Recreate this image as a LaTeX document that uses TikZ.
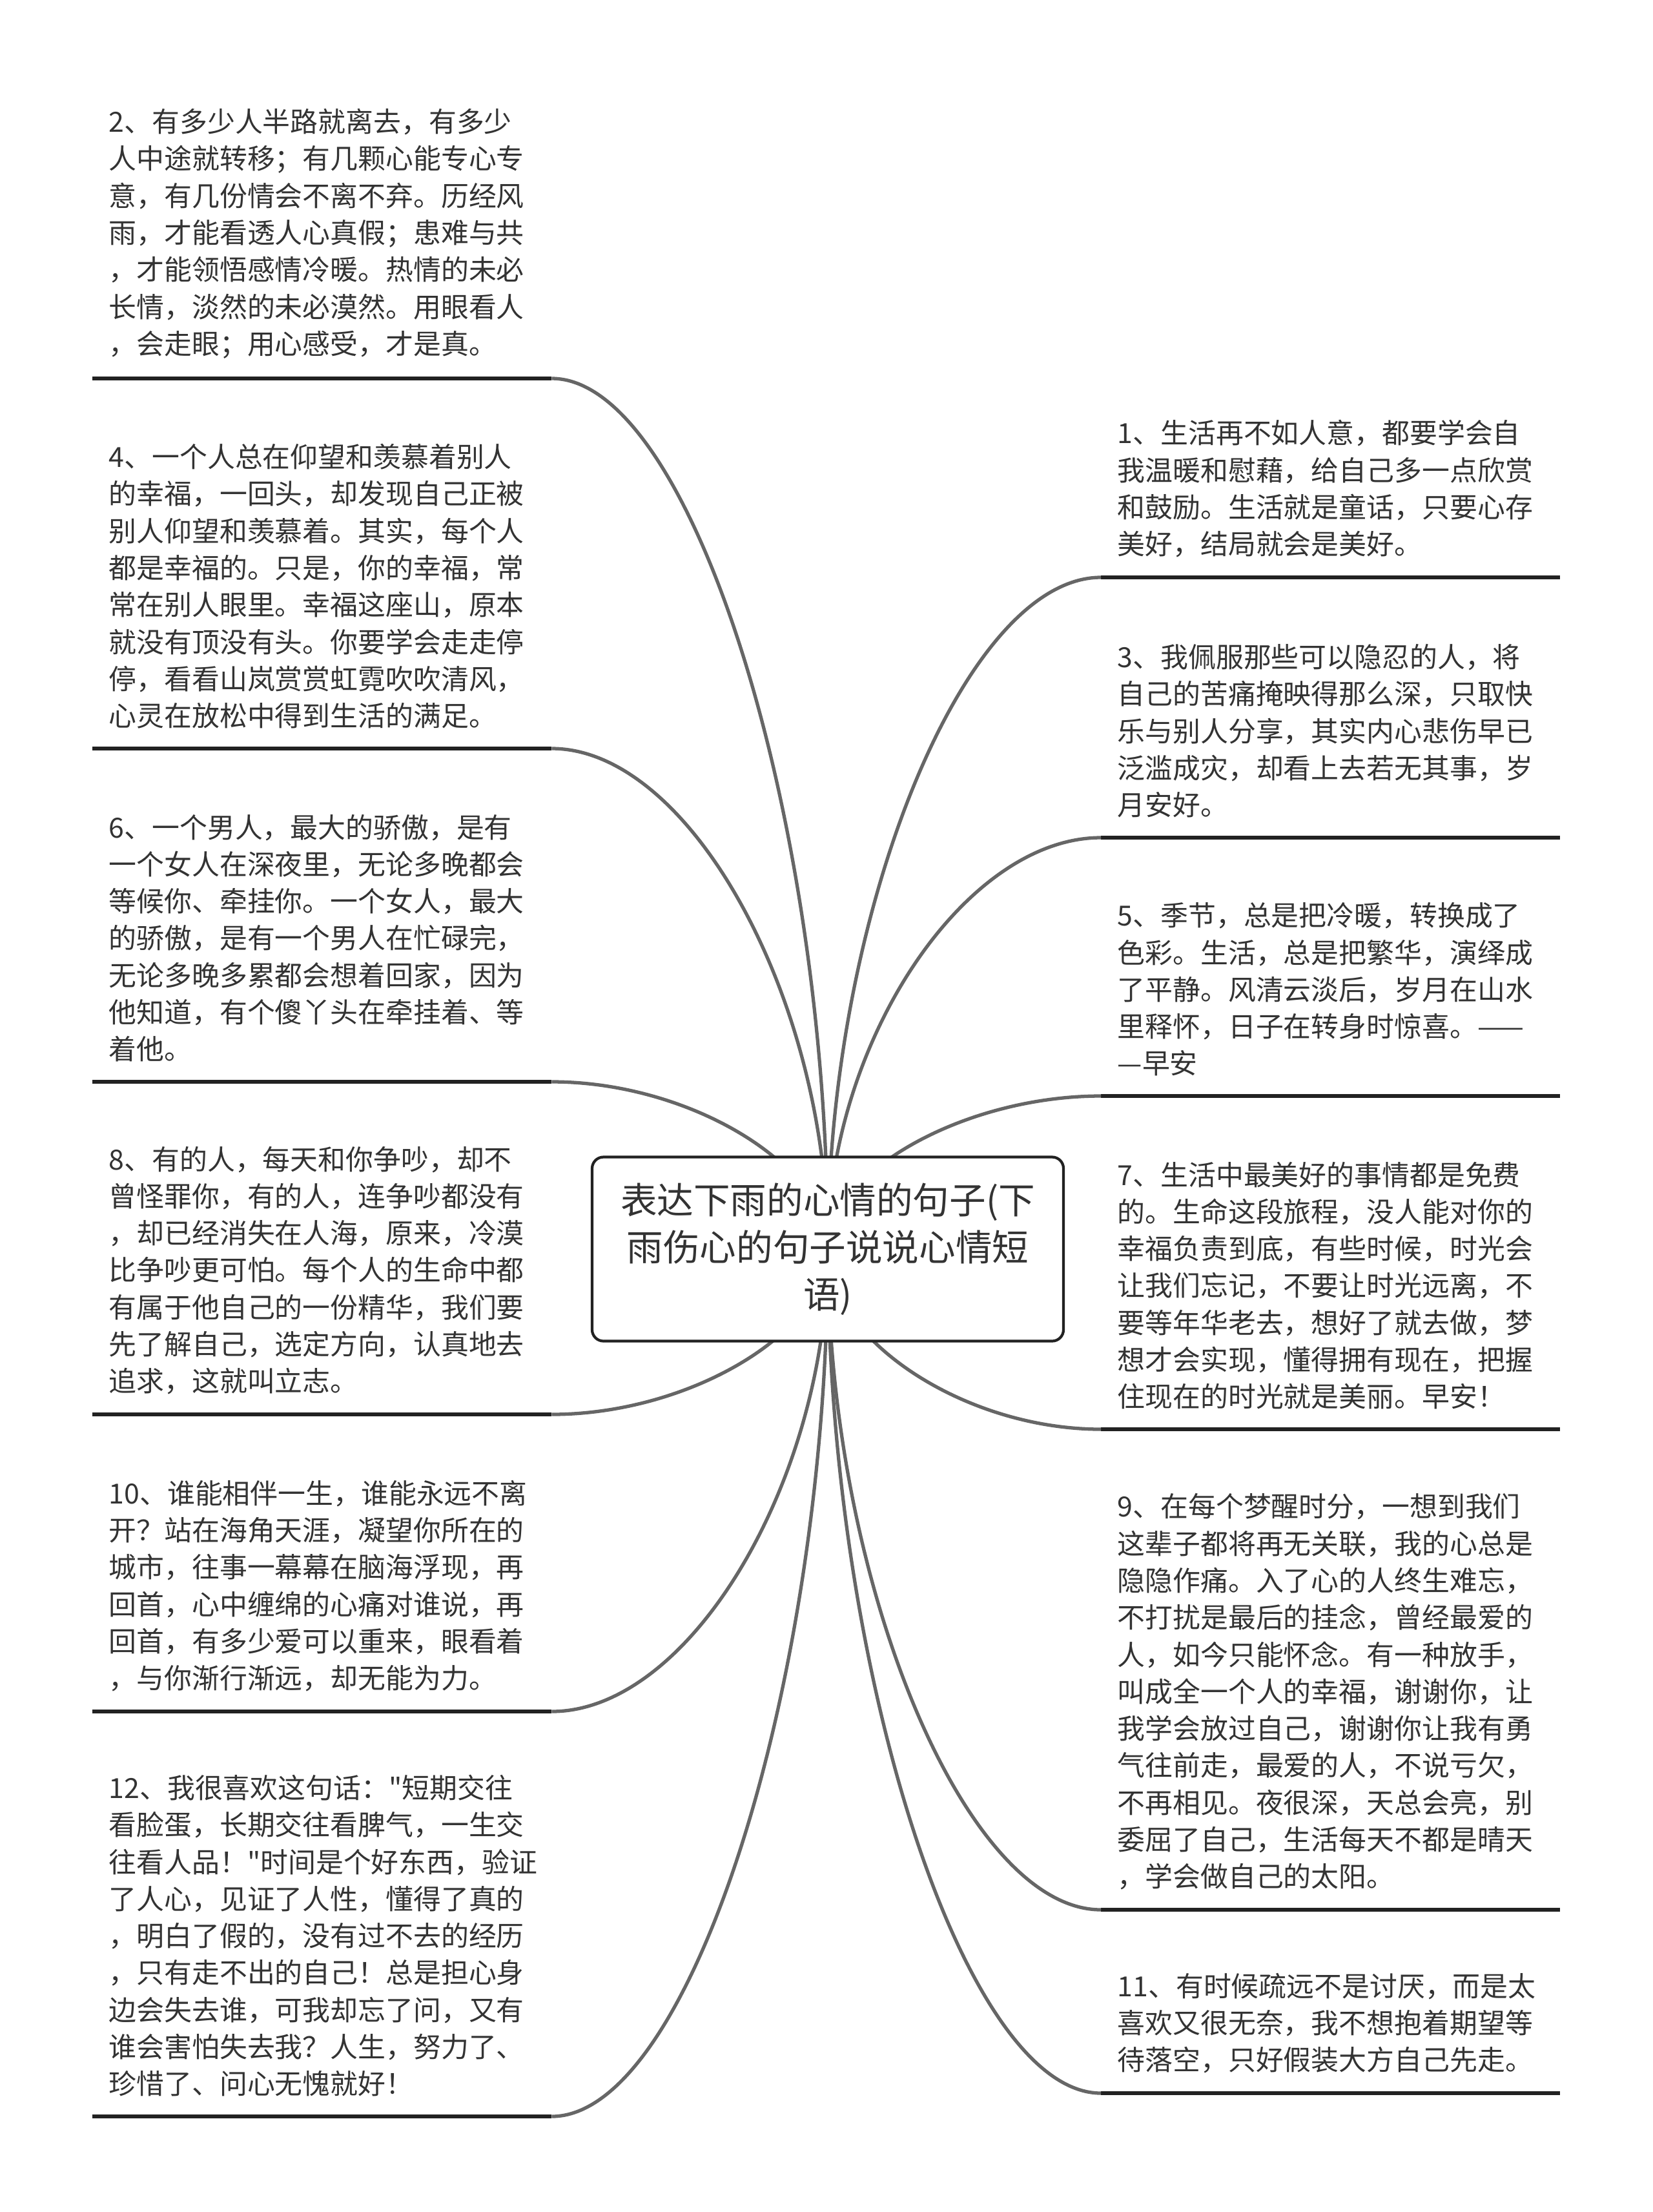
\documentclass[tikz,border=0pt]{standalone}
\usepackage{fontspec}
\setmainfont{Noto Sans CJK SC}[Ligatures=TeXOff]
\usepackage{xcolor}
\usepackage{tikz}
\usetikzlibrary{positioning, calc, backgrounds}
\definecolor{ink}{RGB}{51,51,51}
\definecolor{wire}{RGB}{102,102,102}
\definecolor{rule}{RGB}{34,34,34}
\tikzset{
  topic/.style={rectangle, rounded corners=5pt, draw=rule, fill=white,
    line width=1.2pt, minimum width=7.3cm, minimum height=2.85cm,
    align=center, text=ink, font=\fontsize{16.1pt}{20.8pt}\selectfont},
  leaf/.style={anchor=south west, text width=6.6cm, inner xsep=0.25cm,
    inner ysep=0.3cm, align=left, text=ink,
    font=\fontsize{12.2pt}{16.3pt}\selectfont},
  underrule/.style={line width=1.6pt, draw=rule},
  twig/.style={line width=1.5pt, draw=wire,
    to path={.. controls ($(\tikztostart -| \tikztotarget)!0.5!(\tikztostart)$)
      and ($(\tikztostart -| \tikztotarget)!0.5!(\tikztotarget)$) .. (\tikztotarget)}},
}
\begin{document}
\begin{tikzpicture}
  \useasboundingbox (0,0) rectangle (25.6,-34.25);

  % Central topic
  \node[topic] (root) at (12.82,-19.34)
    {表达下雨的心情的句子(下\\雨伤心的句子说说心情短\\语)};

  % Left column — even numbers
  \node[leaf] (l2) at (1.43,-5.86) {2、有多少人半路就离去，有多少\\人中途就转移；有几颗心能专心专\\意，有几份情会不离不弃。历经风\\雨，才能看透人心真假；患难与共\\，才能领悟感情冷暖。热情的未必\\长情，淡然的未必漠然。用眼看人\\，会走眼；用心感受，才是真。};
  \node[leaf] (l4) at (1.43,-11.59) {4、一个人总在仰望和羡慕着别人\\的幸福，一回头，却发现自己正被\\别人仰望和羡慕着。其实，每个人\\都是幸福的。只是，你的幸福，常\\常在别人眼里。幸福这座山，原本\\就没有顶没有头。你要学会走走停\\停，看看山岚赏赏虹霓吹吹清风，\\心灵在放松中得到生活的满足。};
  \node[leaf] (l6) at (1.43,-16.75) {6、一个男人，最大的骄傲，是有\\一个女人在深夜里，无论多晚都会\\等候你、牵挂你。一个女人，最大\\的骄傲，是有一个男人在忙碌完，\\无论多晚多累都会想着回家，因为\\他知道，有个傻丫头在牵挂着、等\\着他。};
  \node[leaf] (l8) at (1.43,-21.90) {8、有的人，每天和你争吵，却不\\曾怪罪你，有的人，连争吵都没有\\，却已经消失在人海，原来，冷漠\\比争吵更可怕。每个人的生命中都\\有属于他自己的一份精华，我们要\\先了解自己，选定方向，认真地去\\追求，这就叫立志。};
  \node[leaf] (l10) at (1.43,-26.50) {10、谁能相伴一生，谁能永远不离\\开？站在海角天涯，凝望你所在的\\城市，往事一幕幕在脑海浮现，再\\回首，心中缠绵的心痛对谁说，再\\回首，有多少爱可以重来，眼看着\\，与你渐行渐远，却无能为力。};
  \node[leaf] (l12) at (1.43,-32.77) {12、我很喜欢这句话："短期交往\\看脸蛋，长期交往看脾气，一生交\\往看人品！"时间是个好东西，验证\\了人心，见证了人性，懂得了真的\\，明白了假的，没有过不去的经历\\，只有走不出的自己！总是担心身\\边会失去谁，可我却忘了问，又有\\谁会害怕失去我？人生，努力了、\\珍惜了、问心无愧就好！};

  % Right column — odd numbers
  \node[leaf] (r1) at (17.05,-8.94) {1、生活再不如人意，都要学会自\\我温暖和慰藉，给自己多一点欣赏\\和鼓励。生活就是童话，只要心存\\美好，结局就会是美好。};
  \node[leaf] (r3) at (17.05,-12.97) {3、我佩服那些可以隐忍的人，将\\自己的苦痛掩映得那么深，只取快\\乐与别人分享，其实内心悲伤早已\\泛滥成灾，却看上去若无其事，岁\\月安好。};
  \node[leaf] (r5) at (17.05,-16.97) {5、季节，总是把冷暖，转换成了\\色彩。生活，总是把繁华，演绎成\\了平静。风清云淡后，岁月在山水\\里释怀，日子在转身时惊喜。——\\—早安};
  \node[leaf] (r7) at (17.05,-22.13) {7、生活中最美好的事情都是免费\\的。生命这段旅程，没人能对你的\\幸福负责到底，有些时候，时光会\\让我们忘记，不要让时光远离，不\\要等年华老去，想好了就去做，梦\\想才会实现，懂得拥有现在，把握\\住现在的时光就是美丽。早安！};
  \node[leaf] (r9) at (17.05,-29.57) {9、在每个梦醒时分，一想到我们\\这辈子都将再无关联，我的心总是\\隐隐作痛。入了心的人终生难忘，\\不打扰是最后的挂念，曾经最爱的\\人，如今只能怀念。有一种放手，\\叫成全一个人的幸福，谢谢你，让\\我学会放过自己，谢谢你让我有勇\\气往前走，最爱的人，不说亏欠，\\不再相见。夜很深，天总会亮，别\\委屈了自己，生活每天不都是晴天\\，学会做自己的太阳。};
  \node[leaf] (r11) at (17.05,-32.41) {11、有时候疏远不是讨厌，而是太\\喜欢又很无奈，我不想抱着期望等\\待落空，只好假装大方自己先走。};

  % Underlines and branches
  \begin{scope}[on background layer]
    \draw[underrule] (l2.south west) -- (l2.south east);
    \draw[underrule] (l4.south west) -- (l4.south east);
    \draw[underrule] (l6.south west) -- (l6.south east);
    \draw[underrule] (l8.south west) -- (l8.south east);
    \draw[underrule] (l10.south west) -- (l10.south east);
    \draw[underrule] (l12.south west) -- (l12.south east);
    \draw[underrule] (r1.south west) -- (r1.south east);
    \draw[underrule] (r3.south west) -- (r3.south east);
    \draw[underrule] (r5.south west) -- (r5.south east);
    \draw[underrule] (r7.south west) -- (r7.south east);
    \draw[underrule] (r9.south west) -- (r9.south east);
    \draw[underrule] (r11.south west) -- (r11.south east);

    \draw[twig] (l2.south east) to (root.center);
    \draw[twig] (l4.south east) to (root.center);
    \draw[twig] (l6.south east) to (root.center);
    \draw[twig] (l8.south east) to (root.center);
    \draw[twig] (l10.south east) to (root.center);
    \draw[twig] (l12.south east) to (root.center);
    \draw[twig] (r1.south west) to (root.center);
    \draw[twig] (r3.south west) to (root.center);
    \draw[twig] (r5.south west) to (root.center);
    \draw[twig] (r7.south west) to (root.center);
    \draw[twig] (r9.south west) to (root.center);
    \draw[twig] (r11.south west) to (root.center);
  \end{scope}
\end{tikzpicture}
\end{document}
